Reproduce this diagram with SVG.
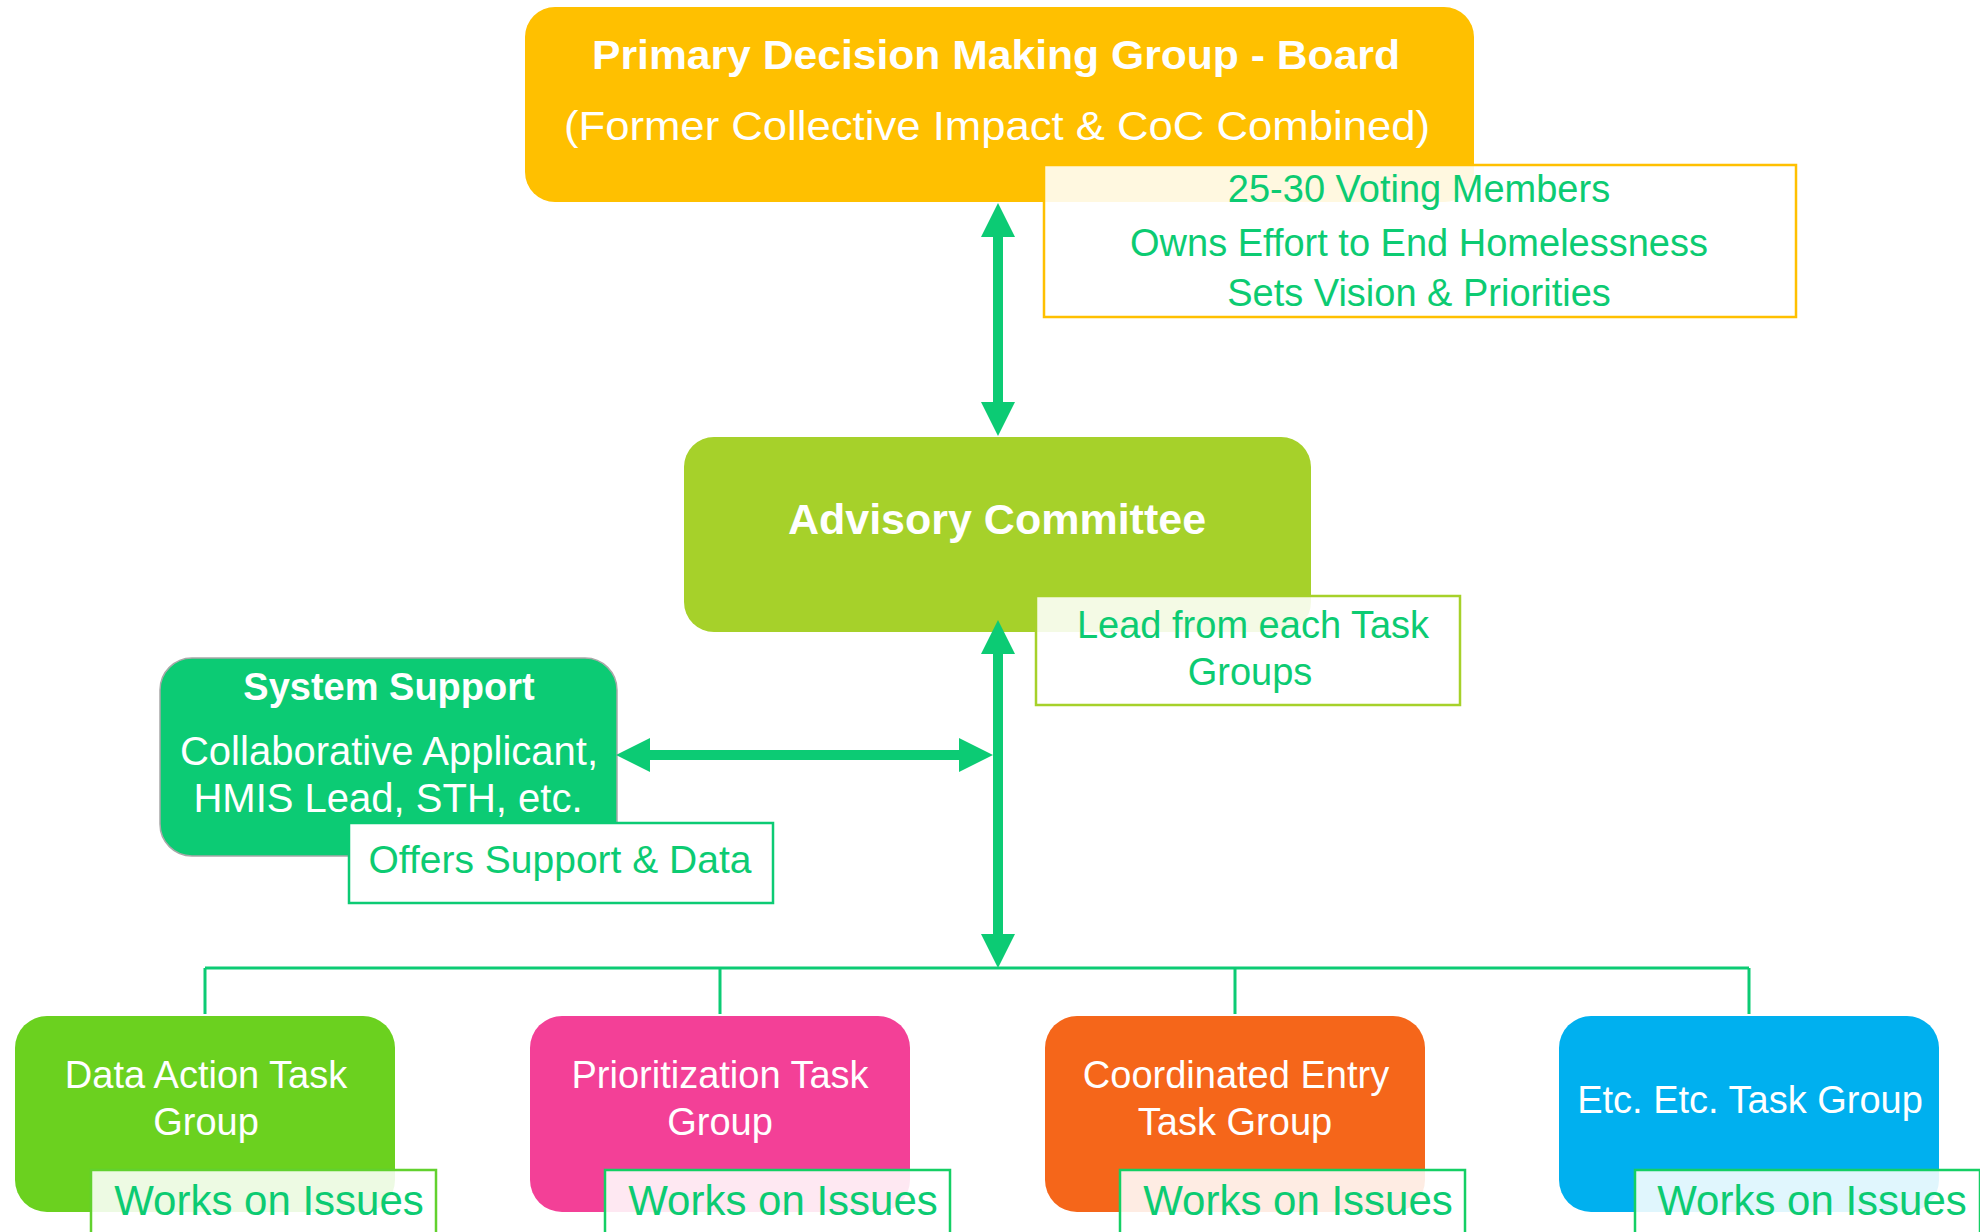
<svg xmlns="http://www.w3.org/2000/svg" width="1980" height="1232" viewBox="0 0 1980 1232">
<defs>
<style>
.t{font-family:"Liberation Sans",Arial,sans-serif;fill:#fff;text-anchor:middle}
.b{font-weight:bold}
.n{font-family:"Liberation Sans",Arial,sans-serif;fill:#0CCB72;text-anchor:middle}
.note{fill:#fff;fill-opacity:0.88;stroke-width:2.5}
.arr{stroke:#0CCB74;stroke-width:10;fill:none}
.tree{stroke:#0CCB74;stroke-width:3;fill:none}
</style>
<marker id="ah" markerUnits="userSpaceOnUse" markerWidth="36" markerHeight="36" refX="0" refY="17" orient="auto-start-reverse" viewBox="0 0 36 36">
<path d="M0,0 L34,17 L0,34 z" fill="#0CCB74"/>
</marker>
</defs>
<rect width="1980" height="1232" fill="#fff"/>

<g id="board">
<rect x="525" y="7" width="949" height="195" rx="30" fill="#FFC000"/>
<text class="t b" x="996" y="69" font-size="41" textLength="808" lengthAdjust="spacingAndGlyphs">Primary Decision Making Group - Board</text>
<text class="t" x="997" y="140" font-size="40" textLength="866" lengthAdjust="spacingAndGlyphs">(Former Collective Impact &amp; CoC Combined)</text>
<rect class="note" x="1044" y="165" width="752" height="152" stroke="#FFC000"/>
<text class="n" x="1419" y="202" font-size="38">25-30 Voting Members</text>
<text class="n" x="1419" y="256" font-size="38">Owns Effort to End Homelessness</text>
<text class="n" x="1419" y="306" font-size="38">Sets Vision &amp; Priorities</text>
</g>

<g id="advisory">
<rect x="684" y="437" width="627" height="195" rx="30" fill="#A6D12A"/>
<text class="t b" x="997" y="534" font-size="43">Advisory Committee</text>
<rect class="note" x="1036" y="596" width="424" height="109" stroke="#A6D12A"/>
<text class="n" x="1253" y="638" font-size="38">Lead from each Task</text>
<text class="n" x="1250" y="685" font-size="38">Groups</text>
</g>

<g id="system-support">
<rect x="160" y="658" width="457" height="198" rx="32" fill="#0CCB74" stroke="#a8a8a8" stroke-width="1.5"/>
<text class="t b" x="389" y="700" font-size="38">System Support</text>
<text class="t" x="389" y="765" font-size="40">Collaborative Applicant,</text>
<text class="t" x="388" y="812" font-size="40">HMIS Lead, STH, etc.</text>
<rect class="note" x="349" y="823" width="424" height="80" stroke="#0CCB74" style="fill-opacity:1"/>
<text class="n" x="560" y="873" font-size="39">Offers Support &amp; Data</text>
</g>

<g id="data-action">
<rect x="15" y="1016" width="380" height="196" rx="32" fill="#6BD11F"/>
<text class="t" x="206" y="1088" font-size="38">Data Action Task</text>
<text class="t" x="206" y="1135" font-size="38">Group</text>
<rect class="note" x="91" y="1170" width="345" height="80" stroke="#62D12E"/>
<text class="n" x="269" y="1215" font-size="42">Works on Issues</text>
</g>

<g id="prioritization">
<rect x="530" y="1016" width="380" height="196" rx="32" fill="#F34097"/>
<text class="t" x="720" y="1088" font-size="38">Prioritization Task</text>
<text class="t" x="720" y="1135" font-size="38">Group</text>
<rect class="note" x="605" y="1170" width="345" height="80" stroke="#14CF64"/>
<text class="n" x="783" y="1215" font-size="42">Works on Issues</text>
</g>

<g id="coordinated-entry">
<rect x="1045" y="1016" width="380" height="196" rx="32" fill="#F5661A"/>
<text class="t" x="1236" y="1088" font-size="38">Coordinated Entry</text>
<text class="t" x="1235" y="1135" font-size="38">Task Group</text>
<rect class="note" x="1120" y="1170" width="345" height="80" stroke="#14CF64"/>
<text class="n" x="1298" y="1215" font-size="42">Works on Issues</text>
</g>

<g id="etc">
<rect x="1559" y="1016" width="380" height="196" rx="32" fill="#00B0EF"/>
<text class="t" x="1750" y="1113" font-size="38">Etc. Etc. Task Group</text>
<rect class="note" x="1635" y="1170" width="345" height="80" stroke="#14CF64"/>
<text class="n" x="1812" y="1215" font-size="42">Works on Issues</text>
</g>

<g id="connectors">
<line class="arr" x1="998" y1="237" x2="998" y2="402" marker-start="url(#ah)" marker-end="url(#ah)"/>
<line class="arr" x1="998" y1="654" x2="998" y2="934" marker-start="url(#ah)" marker-end="url(#ah)"/>
<line class="arr" x1="650" y1="755" x2="959" y2="755" marker-start="url(#ah)" marker-end="url(#ah)"/>
<path class="tree" d="M205,968 H1749 M205,968 V1014 M720,968 V1014 M1235,968 V1014 M1749,968 V1014"/>
</g>
</svg>
